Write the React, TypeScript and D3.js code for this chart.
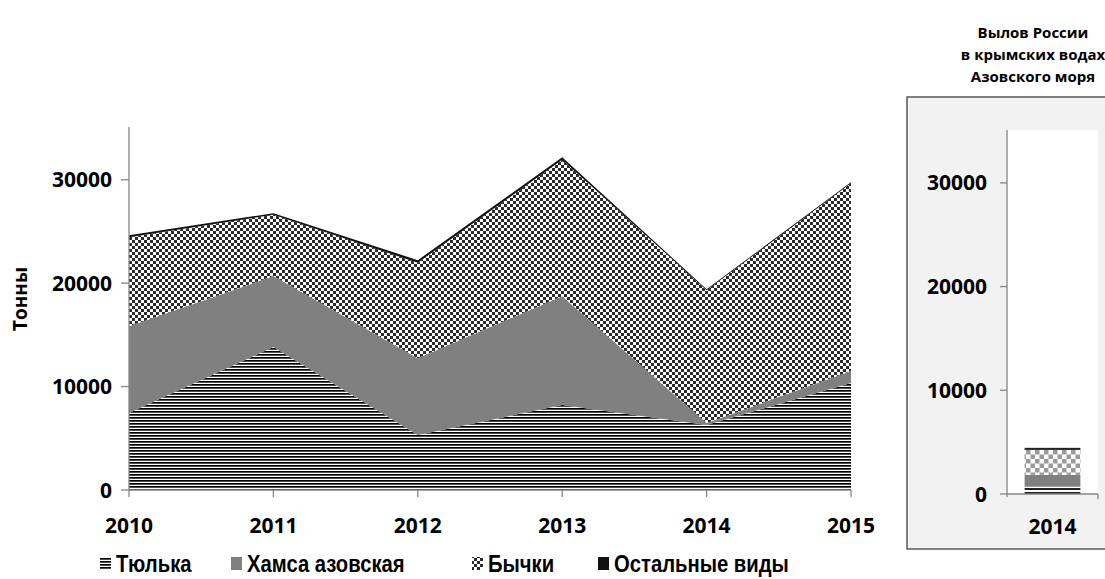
import React from 'react'
import * as d3 from 'd3'

// Улов по годам, тонны
const years = ['2010', '2011', '2012', '2013', '2014', '2015']
const tyulka = [7440, 13820, 5310, 8210, 6280, 10340]
const khamsa = [8400, 6860, 7440, 10530, 190, 1160]
const bychki = [8600, 5930, 9220, 13180, 12850, 18160]
const ostalnye = [200, 150, 250, 250, 100, 100]

// Крым, 2014
const crimeaYear = ['2014']
const crimeaTyulka = [700]
const crimeaKhamsa = [1150]
const crimeaBychki = [2400]
const crimeaOstalnye = [200]

const yTicks = [0, 10000, 20000, 30000]
const seriesKeys = ['tyulka', 'khamsa', 'bychki', 'ostalnye']
const legendLabels = ['Тюлька', 'Хамса азовская', 'Бычки', 'Остальные виды']

const fills = ['url(#stripes)', '#808080', 'url(#checker)', '#111']
const panelFills = ['url(#stripes2)', '#808080', 'url(#checker2)', '#222']

const axisColor = '#868686'
const labelFont = '"Open Sans", "DejaVu Sans", sans-serif'
const legendFont = '"Liberation Sans Narrow", "Liberation Sans", Arial, sans-serif'

const App = () => {
    const rows = years.map((y, i) => ({
        year: y, tyulka: tyulka[i], khamsa: khamsa[i], bychki: bychki[i], ostalnye: ostalnye[i]
    }))
    const panelRows = crimeaYear.map((y, i) => ({
        year: y, tyulka: crimeaTyulka[i], khamsa: crimeaKhamsa[i], bychki: crimeaBychki[i], ostalnye: crimeaOstalnye[i]
    }))

    const stack = d3.stack().keys(seriesKeys)
    const layers = stack(rows as any)
    const panelLayers = stack(panelRows as any)

    const x = d3.scalePoint().domain(years).range([129, 851])
    const y = d3.scaleLinear().domain([0, 35000]).range([490, 128])

    const area = d3.area<any>()
        .x((d, i) => x(years[i]) as number)
        .y0(d => y(d[0]))
        .y1(d => y(d[1]))

    const px = d3.scaleBand().domain(crimeaYear).range([1007, 1098]).padding(0.24)
    const py = d3.scaleLinear().domain([0, 35000]).range([494, 131])

    return (
        <svg width={1105} height={579} style={{ position: 'absolute', left: 0, top: 0 }}>
            <defs>
                <pattern id="stripes" width="4" height="3" patternUnits="userSpaceOnUse">
                    <rect width="4" height="3" fill="#fff" />
                    <rect width="4" height="1.7" fill="#000" />
                </pattern>
                <pattern id="checker" width="6" height="6" patternUnits="userSpaceOnUse">
                    <rect width="6" height="6" fill="#fff" />
                    <rect width="3" height="3" fill="#2b2b2b" />
                    <rect x="3" y="3" width="3" height="3" fill="#2b2b2b" />
                </pattern>
                <pattern id="stripes2" width="4" height="4" patternUnits="userSpaceOnUse">
                    <rect width="4" height="4" fill="#fff" />
                    <rect width="4" height="2" fill="#222" />
                </pattern>
                <pattern id="checker2" width="9" height="9" patternUnits="userSpaceOnUse">
                    <rect width="9" height="9" fill="#fff" />
                    <rect width="4.5" height="4.5" fill="#9a9a9a" />
                    <rect x="4.5" y="4.5" width="4.5" height="4.5" fill="#9a9a9a" />
                </pattern>
            </defs>

            {/* основной график */}
            {layers.map((layer, i) => (
                <path key={seriesKeys[i]} d={area(layer as any) || ''} fill={fills[i]} />
            ))}

            <line x1={129} x2={129} y1={127} y2={490} stroke={axisColor} strokeWidth={1.3} />
            <line x1={129} x2={851} y1={490} y2={490} stroke={axisColor} strokeWidth={1.3} />
            {yTicks.map(t => (
                <g key={t}>
                    <line x1={121} x2={129} y1={y(t)} y2={y(t)} stroke={axisColor} strokeWidth={1.3} />
                    <text x={112} y={y(t)} dy="0.36em" textAnchor="end" fontFamily={labelFont}
                        fontWeight="bold" fontSize={21} fill="#000">{t}</text>
                </g>
            ))}
            {years.map(yr => (
                <g key={yr}>
                    <line x1={x(yr)} x2={x(yr)} y1={490} y2={497} stroke={axisColor} strokeWidth={1.3} />
                    <text x={x(yr)} y={533} textAnchor="middle" fontFamily={labelFont}
                        fontWeight="bold" fontSize={21} fill="#000">{yr}</text>
                </g>
            ))}
            <text transform="translate(27,299) rotate(-90)" textAnchor="middle" fontFamily={labelFont}
                fontWeight="bold" fontSize={19}>Тонны</text>

            {/* легенда */}
            {legendLabels.map((lbl, i) => {
                const lx = [100, 231, 472, 598][i]
                return (
                    <g key={lbl}>
                        <rect x={lx} y={557} width={11} height={13} fill={fills[i]} />
                        <text x={lx + 16} y={572} transform={`translate(${lx + 16},0) scale(0.88,1) translate(${-(lx + 16)},0)`}
                            fontFamily={legendFont} fontWeight="bold" fontSize={23} fill="#000">{lbl}</text>
                    </g>
                )
            })}

            {/* Крым */}
            {['Вылов России', 'в крымских водах', 'Азовского моря'].map((t, i) => (
                <text key={t} x={1033} y={38 + i * 22} textAnchor="middle" fontFamily={labelFont}
                    fontWeight="bold" fontSize={15} fill="#000">{t}</text>
            ))}
            <rect x={907} y={97} width={205} height={452} fill="#f2f2f2" stroke="#595959" strokeWidth={1.5} />
            <rect x={1007} y={130} width={91} height={364} fill="#fff" />
            {panelLayers.map((layer, i) => (
                <rect key={seriesKeys[i]} x={px('2014')} width={px.bandwidth()}
                    y={py(layer[0][1])} height={py(layer[0][0]) - py(layer[0][1])} fill={panelFills[i]} />
            ))}
            <line x1={1007} x2={1007} y1={130} y2={497} stroke={axisColor} strokeWidth={1.3} />
            <line x1={1007} x2={1098} y1={494} y2={494} stroke={axisColor} strokeWidth={1.3} />
            <line x1={1098} x2={1098} y1={494} y2={499} stroke={axisColor} strokeWidth={1.3} />
            {yTicks.map(t => (
                <g key={t}>
                    <line x1={1000} x2={1007} y1={py(t)} y2={py(t)} stroke={axisColor} strokeWidth={1.3} />
                    <text x={987} y={py(t)} dy="0.36em" textAnchor="end" fontFamily={labelFont}
                        fontWeight="bold" fontSize={21} fill="#000">{t}</text>
                </g>
            ))}
            <text x={(px('2014') as number) + px.bandwidth() / 2} y={534} textAnchor="middle"
                fontFamily={labelFont} fontWeight="bold" fontSize={21}>2014</text>
        </svg>
    )
}

export default App
